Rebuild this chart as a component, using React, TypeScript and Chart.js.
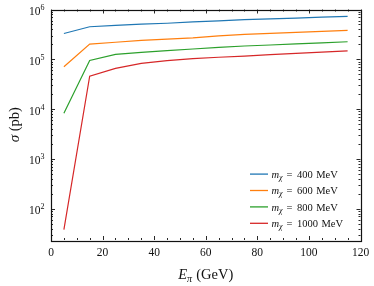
import React, { useEffect, useRef } from "react";
import { Chart, registerables } from "chart.js";

Chart.register(...registerables);

const energies = [5, 15, 25, 35, 45, 55, 65, 75, 85, 95, 105, 115];
const masses = [400, 600, 800, 1000];
const sigma400 = [3.3e5, 4.5e5, 4.8e5, 5.1e5, 5.3e5, 5.65e5, 5.9e5, 6.25e5, 6.5e5, 6.7e5, 7.0e5, 7.25e5];
const sigma600 = [7.1e4, 2.02e5, 2.2e5, 2.4e5, 2.55e5, 2.7e5, 2.95e5, 3.16e5, 3.31e5, 3.47e5, 3.63e5, 3.8e5];
const sigma800 = [8.3e3, 9.5e4, 1.26e5, 1.38e5, 1.49e5, 1.61e5, 1.74e5, 1.85e5, 1.94e5, 2.04e5, 2.14e5, 2.25e5];
const sigma1000 = [38, 4.6e4, 6.6e4, 8.3e4, 9.4e4, 1.03e5, 1.1e5, 1.16e5, 1.24e5, 1.31e5, 1.39e5, 1.48e5];
const seriesColors = ["#1f77b4", "#ff7f0e", "#2ca02c", "#d62728"];
const xTickValues = [0, 20, 40, 60, 80, 100, 120];
const yTickExponents = [2, 3, 4, 5, 6];

const SERIF = '"Liberation Serif", "DejaVu Serif", serif';
const INK = "#111";

const decorPlugin = {
  id: "decor",
  afterDraw(chart: any) {
    const ctx: CanvasRenderingContext2D = chart.ctx;
    const a = chart.chartArea;
    const xs = chart.scales.x;
    const ys = chart.scales.y;
    ctx.save();
    ctx.strokeStyle = INK;
    ctx.fillStyle = INK;

    // ticks (inward, all four sides)
    ctx.lineWidth = 0.9;
    const tickX = (v: number, len: number) => {
      const px = Math.round(xs.getPixelForValue(v)) + 0.5;
      ctx.beginPath();
      ctx.moveTo(px, a.bottom);
      ctx.lineTo(px, a.bottom - len);
      ctx.moveTo(px, a.top);
      ctx.lineTo(px, a.top + len);
      ctx.stroke();
    };
    const tickY = (v: number, len: number) => {
      const py = Math.round(ys.getPixelForValue(v)) + 0.5;
      ctx.beginPath();
      ctx.moveTo(a.left, py);
      ctx.lineTo(a.left + len, py);
      ctx.moveTo(a.right, py);
      ctx.lineTo(a.right - len, py);
      ctx.stroke();
    };
    for (let v = xs.min; v <= xs.max + 1e-9; v += 5) {
      const major = Math.abs(v % 20) < 1e-9;
      tickX(v, major ? 4 : 2);
    }
    for (let e = 1; e <= 6; e++) {
      for (let m = 1; m <= 9; m++) {
        const v = m * Math.pow(10, e);
        if (v < ys.min || v > ys.max) continue;
        tickY(v, m === 1 ? 4 : 2);
      }
    }

    // frame
    ctx.lineWidth = 1.2;
    ctx.strokeRect(Math.round(a.left) + 0.5, Math.round(a.top) + 0.5, Math.round(a.right - a.left), Math.round(a.bottom - a.top));

    // x tick labels
    ctx.font = `11.5px ${SERIF}`;
    ctx.textAlign = "center";
    ctx.textBaseline = "alphabetic";
    for (const t of xs.ticks) {
      ctx.fillText(String(t.value), xs.getPixelForValue(t.value), a.bottom + 15.5);
    }

    // y tick labels: 10^e
    for (const t of ys.ticks) {
      const e = Math.round(Math.log10(t.value));
      const py = ys.getPixelForValue(t.value);
      ctx.font = `8px ${SERIF}`;
      const ew = ctx.measureText(String(e)).width;
      const right = a.left - 6.5;
      ctx.textAlign = "right";
      ctx.fillText(String(e), right, py + 0.5);
      ctx.font = `11.5px ${SERIF}`;
      ctx.fillText("10", right - ew, py + 5.5);
    }

    // x title: E_pi (GeV)
    {
      const cx = (a.left + a.right) / 2;
      const by = 279;
      ctx.textAlign = "left";
      const fE = `italic 14.5px ${SERIF}`;
      const fSub = `italic 10px ${SERIF}`;
      const fR = `14.5px ${SERIF}`;
      ctx.font = fE; const wE = ctx.measureText("E").width;
      ctx.font = fSub; const wP = ctx.measureText("π").width;
      ctx.font = fR; const wR = ctx.measureText(" (GeV)").width;
      let x = cx - (wE + wP + 0.5 + wR) / 2;
      ctx.font = fE; ctx.fillText("E", x, by); x += wE;
      ctx.font = fSub; ctx.fillText("π", x, by + 3); x += wP + 0.5;
      ctx.font = fR; ctx.fillText(" (GeV)", x, by);
    }

    // y title: sigma (pb)
    {
      const cy = (a.top + a.bottom) / 2;
      ctx.save();
      ctx.translate(18.5, cy);
      ctx.rotate(-Math.PI / 2);
      ctx.textAlign = "left";
      const fS = `italic 15px ${SERIF}`;
      const fR = `14.5px ${SERIF}`;
      ctx.font = fS; const wS = ctx.measureText("σ").width;
      ctx.font = fR; const wR = ctx.measureText(" (pb)").width;
      let x = -(wS + wR) / 2;
      ctx.font = fS; ctx.fillText("σ", x, 0); x += wS;
      ctx.font = fR; ctx.fillText(" (pb)", x, 0);
      ctx.restore();
    }

    // legend (lower right, inside)
    {
      const ds = chart.data.datasets;
      const n = ds.length;
      const rowH = 16.4;
      for (let i = 0; i < n; i++) {
        const y = a.bottom - 16.7 - (n - 1 - i) * rowH;
        const lx0 = a.right - 110.5;
        ctx.strokeStyle = ds[i].borderColor;
        ctx.lineWidth = 1.3;
        ctx.beginPath();
        ctx.moveTo(lx0, y);
        ctx.lineTo(lx0 + 18, y);
        ctx.stroke();
        let x = lx0 + 21.5;
        const by = y + 3.8;
        ctx.fillStyle = INK;
        ctx.textAlign = "left";
        ctx.font = `italic 10.5px ${SERIF}`;
        ctx.fillText("m", x, by); x += ctx.measureText("m").width;
        ctx.font = `italic 8px ${SERIF}`;
        ctx.fillText("χ", x, by + 2); x += ctx.measureText("χ").width + 4;
        ctx.font = `10.5px ${SERIF}`;
        ctx.fillText("=", x, by); x += ctx.measureText("=").width + 4.5;
        const num = String(masses[i]);
        ctx.fillText(num, x, by); x += ctx.measureText(num).width + 3.5;
        ctx.fillText("MeV", x, by);
      }
    }
    ctx.restore();
  },
};

export default function App() {
  const ref = useRef<HTMLCanvasElement | null>(null);
  useEffect(() => {
    document.body.style.margin = "0";
    const canvas = ref.current!;
    const allSeries = [sigma400, sigma600, sigma800, sigma1000];
    const chart = new Chart(canvas, {
      type: "line",
      data: {
        datasets: allSeries.map((s, i) => ({
          label: `m_χ = ${masses[i]} MeV`,
          data: energies.map((x, j) => ({ x, y: s[j] })),
          borderColor: seriesColors[i],
          backgroundColor: seriesColors[i],
          borderWidth: 1.2,
          pointRadius: 0,
          tension: 0,
          fill: false,
        })),
      },
      options: {
        responsive: false,
        animation: false,
        events: [],
        layout: { padding: { top: 9.5, right: 13.5, left: 0, bottom: 0 } },
        plugins: { legend: { display: false }, tooltip: { enabled: false } },
        scales: {
          x: {
            type: "linear",
            min: 0,
            max: 120,
            afterBuildTicks: (s: any) => { s.ticks = xTickValues.map((v) => ({ value: v })); },
            afterFit: (s: any) => { s.height = 46; },
            ticks: { display: false },
            grid: { display: false },
            border: { display: false },
          },
          y: {
            type: "logarithmic",
            min: 23.6,
            max: 1e6,
            afterBuildTicks: (s: any) => { s.ticks = yTickExponents.map((e) => ({ value: Math.pow(10, e) })); },
            afterFit: (s: any) => { s.width = 51; },
            ticks: { display: false },
            grid: { display: false },
            border: { display: false },
          },
        },
      },
      plugins: [decorPlugin],
    } as any);
    return () => chart.destroy();
  }, []);
  return (
    <div style={{ position: "fixed", left: 0, top: 0, width: 374, height: 286, background: "#fff" }}>
      <canvas ref={ref} width={374} height={286} style={{ width: 374, height: 286, display: "block" }} />
    </div>
  );
}
